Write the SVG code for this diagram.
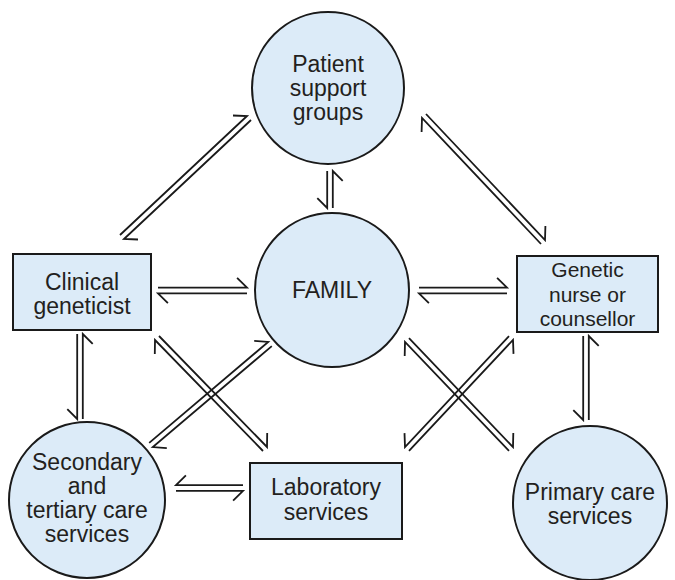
<svg xmlns="http://www.w3.org/2000/svg" width="675" height="580" viewBox="0 0 675 580">
<style>
.n{fill:#dcebf8;stroke:#1a1a1a;stroke-width:2}
.t{font-family:"Liberation Sans",Arial,sans-serif;font-size:23px;fill:#231f20;text-anchor:middle}
.s{font-size:21px}
.a{fill:none;stroke:#1a1a1a;stroke-width:1.8;stroke-linejoin:miter;stroke-miterlimit:10}
</style>
<rect width="675" height="580" fill="#ffffff"/>
<g id="connectors">
<!-- Clinical <-> Family -->
<path class="a" d="M158,287.7 L247,287.7 L237.1,277.8"/>
<path class="a" d="M247,293.3 L158,293.3 L167.9,303.2"/>
<!-- Family <-> Genetic -->
<path class="a" d="M419,287.7 L507,287.7 L497.1,277.8"/>
<path class="a" d="M507,293.3 L419,293.3 L428.9,303.2"/>
<!-- Patient <-> Family -->
<path class="a" d="M332.8,208 L332.8,171 L342.7,180.9"/>
<path class="a" d="M327.2,171 L327.2,208 L317.3,198.1"/>
<!-- Clinical <-> Secondary -->
<path class="a" d="M82.8,419 L82.8,334 L92.7,343.9"/>
<path class="a" d="M77.2,334 L77.2,419 L67.3,409.1"/>
<!-- Genetic <-> Primary -->
<path class="a" d="M588.8,420 L588.8,336 L598.7,345.9"/>
<path class="a" d="M583.2,336 L583.2,420 L573.3,410.1"/>
<!-- Clinical <-> Patient -->
<path class="a" d="M120,235 L247,116 L233,115.5"/>
<path class="a" d="M251,120 L124,239 L138,239.5"/>
<!-- Patient <-> Genetic -->
<path class="a" d="M426,114 L545,240 L545.4,226"/>
<path class="a" d="M541,244 L422,118 L421.6,132"/>
<!-- Clinical <-> Laboratory -->
<path class="a" d="M159,336 L267,447 L267.2,433"/>
<path class="a" d="M263,451 L155,340 L154.8,354"/>
<!-- Secondary <-> Family -->
<path class="a" d="M149.2,442.9 L268.2,341.9 L254.2,340.8"/>
<path class="a" d="M271.8,346.1 L152.8,447.1 L166.8,448.2"/>
<!-- Family <-> Primary -->
<path class="a" d="M409,338.1 L513,447.1 L513.3,433.1"/>
<path class="a" d="M509,450.9 L405,341.9 L404.7,355.9"/>
<!-- Laboratory <-> Genetic -->
<path class="a" d="M409,450.9 L513,339.9 L513.5,353.9"/>
<path class="a" d="M509,336.1 L405,447.1 L404.5,433.1"/>
<!-- Secondary <-> Laboratory -->
<path class="a" d="M243,485.2 L176,485.2 L185.9,475.3"/>
<path class="a" d="M176,490.8 L243,490.8 L233.1,500.7"/>
</g>
<g id="patient">
<circle class="n" cx="328" cy="88" r="76"/>
<text class="t" x="328" y="72">Patient</text>
<text class="t" x="328" y="96">support</text>
<text class="t" x="328" y="120">groups</text>
</g>
<g id="family">
<circle class="n" cx="332" cy="290" r="77"/>
<text class="t" x="332" y="298">FAMILY</text>
</g>
<g id="clinical">
<rect class="n" x="13" y="254" width="138" height="76"/>
<text class="t" x="82" y="290">Clinical</text>
<text class="t" x="82" y="314">geneticist</text>
</g>
<g id="genetic">
<rect class="n" x="517" y="256" width="141" height="76"/>
<text class="t s" x="587.5" y="277">Genetic</text>
<text class="t s" x="587.5" y="301.5">nurse or</text>
<text class="t s" x="587.5" y="326">counsellor</text>
</g>
<g id="secondary">
<circle class="n" cx="87" cy="500" r="78"/>
<text class="t" x="87" y="470">Secondary</text>
<text class="t" x="87" y="494">and</text>
<text class="t" x="87" y="518">tertiary care</text>
<text class="t" x="87" y="542">services</text>
</g>
<g id="laboratory">
<rect class="n" x="250" y="463" width="152" height="76"/>
<text class="t" x="326" y="495">Laboratory</text>
<text class="t" x="326" y="520">services</text>
</g>
<g id="primary">
<circle class="n" cx="590" cy="503" r="77"/>
<text class="t" x="590" y="500">Primary care</text>
<text class="t" x="590" y="524">services</text>
</g>
</svg>
